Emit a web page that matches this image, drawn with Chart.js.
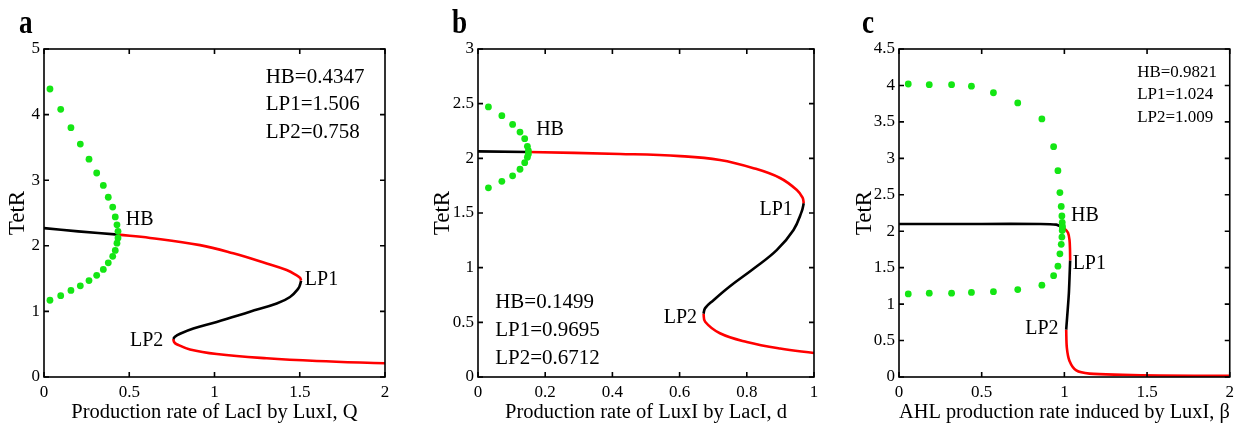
<!DOCTYPE html>
<html>
<head>
<meta charset="utf-8">
<script src="https://cdn.jsdelivr.net/npm/chart.js@4.4.1/dist/chart.umd.min.js"></script>
<style>
  body { margin: 0; background: #fff; width: 1239px; height: 425px; overflow: hidden; position: relative; }
  .panel { position: absolute; top: 0; height: 425px; }
</style>
</head>
<body>
<div class="panel" style="left:0;width:410px"><canvas id="chart-a"></canvas></div>
<div class="panel" style="left:410px;width:415px"><canvas id="chart-b"></canvas></div>
<div class="panel" style="left:825px;width:414px"><canvas id="chart-c"></canvas></div>
<script>
// Panel a: TetR vs production rate of LacI by LuxI (Q)
const aDotsX   = [0.035, 0.098, 0.158, 0.213, 0.264, 0.309, 0.348, 0.377, 0.403, 0.418, 0.428, 0.434];
const aDotsUpY = [4.39, 4.08, 3.80, 3.55, 3.32, 3.11, 2.92, 2.74, 2.59, 2.44, 2.32, 2.22];
const aDotsLoY = [1.17, 1.24, 1.32, 1.39, 1.47, 1.55, 1.64, 1.74, 1.84, 1.93, 2.04, 2.12];
const aStableX = [0, 0.2, 0.4347];
const aStableY = [2.27, 2.22, 2.17];
const aUpperX  = [0.4347, 0.622, 0.915, 1.11, 1.306, 1.423, 1.482, 1.502, 1.508];
const aUpperY  = [2.17, 2.12, 2.01, 1.885, 1.73, 1.63, 1.55, 1.51, 1.47];
const aMidX    = [1.508, 1.502, 1.492, 1.443, 1.365, 1.208, 1.013, 0.876, 0.798, 0.768, 0.758];
const aMidY    = [1.47, 1.41, 1.35, 1.22, 1.12, 0.995, 0.84, 0.74, 0.66, 0.615, 0.58];
const aLowX    = [0.758, 0.764, 0.778, 0.856, 1.013, 1.306, 1.6, 2.0];
const aLowY    = [0.58, 0.53, 0.50, 0.42, 0.35, 0.285, 0.244, 0.209];
const aXTicks  = [0, 0.5, 1, 1.5, 2];
const aYTicks  = [0, 1, 2, 3, 4, 5];

// Panel b: TetR vs production rate of LuxI by LacI (d)
const bDotsX   = [0.031, 0.071, 0.103, 0.125, 0.139, 0.147, 0.150];
const bDotsUpY = [2.47, 2.39, 2.31, 2.24, 2.18, 2.11, 2.07];
const bDotsLoY = [1.73, 1.79, 1.84, 1.90, 1.96, 2.01, 2.04];
const bStableX = [0, 0.1499];
const bStableY = [2.064, 2.058];
const bUpperX  = [0.1499, 0.423, 0.602, 0.72, 0.82, 0.899, 0.949, 0.966, 0.9695];
const bUpperY  = [2.058, 2.04, 2.02, 1.985, 1.91, 1.82, 1.71, 1.64, 1.59];
const bMidX    = [0.9695, 0.963, 0.939, 0.889, 0.82, 0.75, 0.70, 0.676, 0.6712];
const bMidY    = [1.59, 1.51, 1.345, 1.16, 0.99, 0.83, 0.70, 0.63, 0.58];
const bLowX    = [0.6712, 0.676, 0.72, 0.80, 0.899, 1.0];
const bLowY    = [0.58, 0.505, 0.40, 0.32, 0.26, 0.22];
const bXTicks  = [0, 0.2, 0.4, 0.6, 0.8, 1];
const bYTicks  = [0, 0.5, 1, 1.5, 2, 2.5, 3];

// Panel c: TetR vs AHL production rate induced by LuxI (beta)
const cDotsX   = [0.056, 0.183, 0.318, 0.438, 0.571, 0.718, 0.864, 0.935, 0.961, 0.973, 0.981, 0.985, 0.987, 0.988];
const cDotsUpY = [4.02, 4.01, 4.01, 3.99, 3.90, 3.76, 3.54, 3.16, 2.83, 2.53, 2.34, 2.21, 2.12, 2.07];
const cDotsLoY = [1.14, 1.15, 1.15, 1.16, 1.17, 1.20, 1.26, 1.39, 1.52, 1.69, 1.82, 1.92, 2.01, 2.05];
const cStableX = [0, 0.5, 0.85, 0.951, 0.9821];
const cStableY = [2.10, 2.10, 2.10, 2.09, 2.06];
const cUpperX  = [0.9821, 1.001, 1.022, 1.031, 1.034, 1.035];
const cUpperY  = [2.06, 2.035, 1.98, 1.88, 1.75, 1.60];
const cMidX    = [1.035, 1.027, 1.011];
const cMidY    = [1.60, 1.14, 0.65];
const cLowX    = [1.011, 1.015, 1.031, 1.072, 1.152, 1.353, 1.574, 2.0];
const cLowY    = [0.65, 0.40, 0.22, 0.09, 0.046, 0.03, 0.02, 0.015];
const cXTicks  = [0, 0.5, 1, 1.5, 2];
const cYTicks  = [0, 0.5, 1, 1.5, 2, 2.5, 3, 3.5, 4, 4.5];

const SERIF = "'Liberation Serif', 'Times New Roman', serif";
const GREEN = '#14e614';
const RED = '#ff0000';

Chart.defaults.font.family = SERIF;
Chart.defaults.color = '#000';

function pts(xs, ys) {
    return xs.map((x, i) => ({ x: x, y: ys[i] }));
}

function curve(xs, ys, color, tension) {
    return {
        data: pts(xs, ys),
        showLine: true,
        borderColor: color,
        borderWidth: 2.6,
        pointRadius: 0,
        fill: false,
        tension: tension,
        order: 1
    };
}

function dots(xs, ys) {
    return {
        data: pts(xs, ys),
        showLine: false,
        pointRadius: 3.4,
        pointBackgroundColor: GREEN,
        pointBorderWidth: 0,
        order: 0
    };
}

// box, inward ticks, text labels, panel letter
const framePlugin = {
    id: 'frame',
    afterDatasetsDraw(chart, args, o) {
        const { ctx, chartArea: a, scales: { x, y } } = chart;
        ctx.save();
        ctx.strokeStyle = '#000';
        ctx.lineWidth = 1.6;
        ctx.strokeRect(a.left, a.top, a.right - a.left, a.bottom - a.top);
        ctx.beginPath();
        o.xTicks.forEach(v => {
            const px = x.getPixelForValue(v);
            ctx.moveTo(px, a.bottom); ctx.lineTo(px, a.bottom - 5);
            ctx.moveTo(px, a.top); ctx.lineTo(px, a.top + 5);
        });
        o.yTicks.forEach(v => {
            const py = y.getPixelForValue(v);
            ctx.moveTo(a.left, py); ctx.lineTo(a.left + 5, py);
            ctx.moveTo(a.right, py); ctx.lineTo(a.right - 5, py);
        });
        ctx.stroke();

        ctx.fillStyle = '#000';
        ctx.textBaseline = 'middle';
        o.labels.forEach(l => {
            ctx.font = l.size + 'px ' + SERIF;
            ctx.textAlign = l.align;
            ctx.fillText(l.text, x.getPixelForValue(l.x), y.getPixelForValue(l.y));
        });

        ctx.font = 'bold 34px ' + SERIF;
        ctx.textAlign = 'left';
        ctx.textBaseline = 'alphabetic';
        ctx.translate(o.letterX, o.letterY);
        ctx.scale(0.8, 1);
        ctx.fillText(o.letter, 0, 0);
        ctx.restore();
    }
};

function makePanel(id, cfg) {
    const ctx = document.getElementById(id).getContext('2d');
    return new Chart(ctx, {
        type: 'line',
        data: { datasets: cfg.datasets },
        options: {
            responsive: true,
            maintainAspectRatio: false,
            animation: false,
            layout: { padding: { top: 49, right: cfg.padRight, left: 0, bottom: 0 } },
            plugins: {
                legend: { display: false },
                tooltip: { enabled: false },
                frame: {
                    xTicks: cfg.xTicks, yTicks: cfg.yTicks, labels: cfg.labels,
                    letter: cfg.letter, letterX: cfg.letterX, letterY: 33
                }
            },
            scales: {
                x: {
                    type: 'linear',
                    min: cfg.xTicks[0],
                    max: cfg.xTicks[cfg.xTicks.length - 1],
                    afterBuildTicks: s => { s.ticks = cfg.xTicks.map(v => ({ value: v })); },
                    afterFit: s => { s.height = 48; },
                    grid: { display: false, drawTicks: false },
                    border: { display: false },
                    ticks: { font: { size: 17 }, padding: 5, maxRotation: 0, autoSkip: false,
                             callback: v => String(v) },
                    title: { display: true, text: cfg.xTitle, font: { size: 20.5 },
                             padding: { top: 0, bottom: 0 } }
                },
                y: {
                    type: 'linear',
                    min: cfg.yTicks[0],
                    max: cfg.yTicks[cfg.yTicks.length - 1],
                    afterBuildTicks: s => { s.ticks = cfg.yTicks.map(v => ({ value: v })); },
                    afterFit: s => { s.width = cfg.yWidth; },
                    grid: { display: false, drawTicks: false },
                    border: { display: false },
                    ticks: { font: { size: 17 }, padding: 4, autoSkip: false,
                             callback: v => String(v) },
                    title: { display: true, text: 'TetR', font: { size: 23 },
                             padding: { top: cfg.yTitlePad, bottom: 0 } }
                }
            }
        },
        plugins: [framePlugin]
    });
}

makePanel('chart-a', {
    letter: 'a', letterX: 19, yWidth: 44, padRight: 25, yTitlePad: 4,
    xTitle: 'Production rate of LacI by LuxI, Q',
    xTicks: aXTicks, yTicks: aYTicks,
    datasets: [
        dots(aDotsX, aDotsUpY), dots(aDotsX, aDotsLoY),
        curve(aStableX, aStableY, '#000', 0.3),
        curve(aUpperX, aUpperY, RED, 0.4),
        curve(aMidX, aMidY, '#000', 0.4),
        curve(aLowX, aLowY, RED, 0.4)
    ],
    labels: [
        { text: 'HB', x: 0.48, y: 2.40, align: 'left', size: 20 },
        { text: 'LP1', x: 1.53, y: 1.48, align: 'left', size: 20 },
        { text: 'LP2', x: 0.70, y: 0.56, align: 'right', size: 20 },
        { text: 'HB=0.4347', x: 1.30, y: 4.57, align: 'left', size: 21 },
        { text: 'LP1=1.506', x: 1.30, y: 4.15, align: 'left', size: 21 },
        { text: 'LP2=0.758', x: 1.30, y: 3.73, align: 'left', size: 21 }
    ]
});

makePanel('chart-b', {
    letter: 'b', letterX: 42, yWidth: 68, padRight: 11, yTitlePad: 19,
    xTitle: 'Production rate of LuxI by LacI, d',
    xTicks: bXTicks, yTicks: bYTicks,
    datasets: [
        dots(bDotsX, bDotsUpY), dots(bDotsX, bDotsLoY),
        curve(bStableX, bStableY, '#000', 0),
        curve(bUpperX, bUpperY, RED, 0.4),
        curve(bMidX, bMidY, '#000', 0.4),
        curve(bLowX, bLowY, RED, 0.4)
    ],
    labels: [
        { text: 'HB', x: 0.173, y: 2.26, align: 'left', size: 20 },
        { text: 'LP1', x: 0.937, y: 1.53, align: 'right', size: 20 },
        { text: 'LP2', x: 0.652, y: 0.54, align: 'right', size: 20 },
        { text: 'HB=0.1499', x: 0.051, y: 0.68, align: 'left', size: 21 },
        { text: 'LP1=0.9695', x: 0.051, y: 0.43, align: 'left', size: 21 },
        { text: 'LP2=0.6712', x: 0.051, y: 0.17, align: 'left', size: 21 }
    ]
});

makePanel('chart-c', {
    letter: 'c', letterX: 37, yWidth: 74, padRight: 8, yTitlePad: 26,
    xTitle: 'AHL production rate induced by LuxI, \u03b2',
    xTicks: cXTicks, yTicks: cYTicks,
    datasets: [
        dots(cDotsX, cDotsUpY), dots(cDotsX, cDotsLoY),
        curve(cStableX, cStableY, '#000', 0.3),
        curve(cUpperX, cUpperY, RED, 0.3),
        curve(cMidX, cMidY, '#000', 0.2),
        curve(cLowX, cLowY, RED, 0.3)
    ],
    labels: [
        { text: 'HB', x: 1.04, y: 2.21, align: 'left', size: 20 },
        { text: 'LP1', x: 1.05, y: 1.55, align: 'left', size: 20 },
        { text: 'LP2', x: 0.965, y: 0.66, align: 'right', size: 20 },
        { text: 'HB=0.9821', x: 1.44, y: 4.18, align: 'left', size: 17 },
        { text: 'LP1=1.024', x: 1.44, y: 3.87, align: 'left', size: 17 },
        { text: 'LP2=1.009', x: 1.44, y: 3.56, align: 'left', size: 17 }
    ]
});
</script>
</body>
</html>
